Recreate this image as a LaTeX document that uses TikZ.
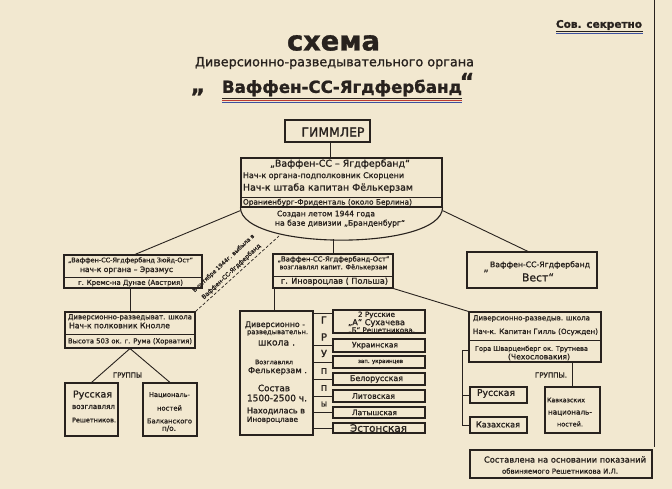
\documentclass[tikz,border=0pt]{standalone}
\usepackage{fontspec}
\setmainfont[FakeBold=1.2]{DejaVu Sans}
\usepackage{graphicx}
\definecolor{paper}{RGB}{242,232,208}
\definecolor{ink}{RGB}{40,34,30}
\definecolor{ured}{RGB}{190,60,50}
\definecolor{ublue}{RGB}{60,80,160}
\newcommand\fw[2]{\resizebox{#1pt}{!}{#2}}
\tikzset{
  bx/.style={draw=ink,line width=1.1pt,inner sep=0pt,rectangle},
  tx/.style={inner sep=0pt,text=ink},
  ln/.style={draw=ink,line width=0.9pt}
}
\begin{document}
\begin{tikzpicture}[x=1pt,y=-1pt]
\fill[paper] (0,0) rectangle (672,489);
\useasboundingbox (0,0) rectangle (672,489);
% frame
\draw[ink,line width=0.8pt] (654,0) -- (654,447);
% title
\node[tx] (tsch) at (333.5,43) {\fw{93}{\bfseries схема}};
\node[tx] (tdiv) at (334.5,63) {\fw{279}{Диверсионно-разведывательного органа}};
\node[tx] (tvaf) at (342,88) {\fw{240}{\bfseries Ваффен-СС-Ягдфербанд}};
\node[tx] (tq1) at (198,92) {\fontsize{22}{22}\selectfont\bfseries „};
\node[tx] (tq2) at (467,81) {\fontsize{22}{22}\selectfont\bfseries “};
\draw[ink,line width=0.9pt] (222,98) -- (462,98);
\draw[ured,line width=0.9pt] (222,100.3) -- (462,100.3);
\draw[ublue,line width=0.9pt] (222,102.6) -- (462,102.6);
\node[tx] (tsec) at (599,25) {\fw{86}{\bfseries Сов. секретно}};
\draw[ink,line width=0.8pt] (556,31) -- (643,31);
\draw[ublue,line width=0.7pt] (556,33.2) -- (643,33.2);

% Himmler
\node[bx,minimum width=85,minimum height=22] (him) at (327.5,131) {};
\node[tx] (thim) at (333,132) {\fw{63}{ГИММЛЕР}};
% central
\node[bx,minimum width=201,minimum height=49] (cen) at (341.5,182.5) {};
\draw[ln] (cen.west |- 0,197) -- (cen.east |- 0,197);
\draw[ln,line width=1.1pt] (cen.south west) .. controls (241,251) and (442,251) .. (cen.south east);
\coordinate (arcb) at (333,239.5);
\node[tx] (c1) at (340,164) {\fw{140}{„Ваффен-СС – Ягдфербанд“}};
\node[tx] (c2) at (323.5,176) {\fw{161}{Нач-к органа-подполковник Скорцени}};
\node[tx] (c3) at (328,188) {\fw{170}{Нач-к штаба капитан Фёлькерзам}};
\node[tx] (c4) at (327.5,202.5) {\fw{169}{Ораниенбург-Фриденталь (около Берлина)}};
\node[tx] (c5) at (326,214) {\fw{98}{Создан летом 1944 года}};
\node[tx] (c6) at (340,223.5) {\fw{130}{на базе дивизии „Бранденбург“}};
\draw[ln] (him.south -| 330,0) -- (cen.north -| 330,0);

% left box
\node[bx,minimum width=138,minimum height=33] (lb) at (133,271.5) {};
\draw[ln] (lb.west |- 0,277) -- (lb.east |- 0,277);
\node[tx] (l1) at (130.5,260.5) {\fw{125}{„Ваффен-СС-Ягдфербанд Зюйд-Ост“}};
\node[tx] (l2) at (126.5,270) {\fw{93}{нач-к органа – Эразмус}};
\node[tx] (l3) at (130.5,283) {\fw{105}{г. Кремс-на Дунае (Австрия)}};
\draw[ln] (cen.south west) ++(0,3) -- ([xshift=2pt]lb.north);

% middle box
\node[bx,minimum width=120,minimum height=34] (mb) at (333,271) {};
\draw[ln] (mb.west |- 0,276) -- (mb.east |- 0,276);
\node[tx] (m1) at (333.5,259.5) {\fw{112}{„Ваффен-СС-Ягдфербанд-Ост“}};
\node[tx] (m2) at (333.5,267.5) {\fw{108}{возглавлял капит. Фёлькерзам}};
\node[tx] (m3) at (334.5,281.5) {\fw{107}{г. Иновроцлав ( Польша)}};
\draw[ln] (arcb) -- (mb.north);

% west box
\node[bx,minimum width=130,minimum height=36] (wb) at (532,270) {};
\node[tx] (w1) at (540,265) {\fw{100}{Ваффен-СС-Ягдфербанд}};
\node[tx] (wq) at (486,271) {\fontsize{10}{10}\selectfont „};
\node[tx] (w2) at (538,277.5) {\fw{32}{Вест“}};
\draw[ln] (cen.south east) ++(0,3) -- ([xshift=-4pt]wb.north);

% left school
\node[bx,minimum width=130,minimum height=36] (ls) at (130,330) {};
\draw[ln] (ls.west |- 0,334) -- (ls.east |- 0,334);
\node[tx] (s1) at (130,317.5) {\fw{124}{Диверсионно-разведыват. школа}};
\node[tx] (s2) at (119.5,325.5) {\fw{101}{Нач-к полковник Кнолле}};
\node[tx] (s3) at (130,341.5) {\fw{124}{Высота 503 ок. г. Рума (Хорватия)}};
\draw[ln] (ls.north |- lb.south) -- (ls.north);

% left groups
\node[tx] (lgr) at (127.5,375) {\fw{29}{ГРУППЫ}};
\node[bx,minimum width=53,minimum height=53] (ga) at (91.5,409.5) {};
\node[bx,minimum width=54,minimum height=53] (gb) at (170,409.5) {};
\draw[ln] (ls.south) -- (ga.north);
\draw[ln] (ls.south) -- (gb.north);
\node[tx] (a1) at (92.5,395) {\fw{39}{Русская}};
\node[tx] (a2) at (93.5,407) {\fw{43}{возглавлял}};
\node[tx] (a3) at (94,420) {\fw{44}{Решетников.}};
\node[tx] (b1) at (169.5,395) {\fw{41}{Националь-}};
\node[tx] (b2) at (169.5,408) {\fw{25}{ностей}};
\node[tx] (b3) at (169.5,421) {\fw{45}{Балканского}};
\node[tx] (b4) at (169,428.5) {\fw{14}{п/о.}};

% annotation (dashed)
\coordinate (annend) at (279,236);
\draw[ln,dashed,line width=0.7pt,dash pattern=on 3pt off 2pt] (ls.north east) -- (annend);
\node[tx,rotate=43,align=center] (ann) at (227.5,267.5) {\fw{82}{В октябре 1944г. выбыла в}\\[-0.5pt]\fw{78}{Ваффен-СС-Ягдфербанд}};

% middle school
\node[bx,minimum width=73,minimum height=124] (ms) at (276.5,373) {};
\draw[ln] ([xshift=2pt]mb.south west) -- ([xshift=2pt]mb.south west |- ms.north);
\node[tx] (ms1) at (275,325) {\fw{60}{Диверсионно -}};
\node[tx] (ms2) at (277.5,333) {\fw{61}{разведывательн.}};
\node[tx] (ms3) at (276.5,343) {\fw{37}{школа .}};
\node[tx] (ms4) at (274,362) {\fw{38}{Возглавлял}};
\node[tx] (ms5) at (277.5,371) {\fw{59}{Фелькерзам .}};
\node[tx] (ms6) at (274,388) {\fw{32}{Состав}};
\node[tx] (ms7) at (277,398) {\fw{60}{1500-2500 ч.}};
\node[tx] (ms8) at (276,411) {\fw{58}{Находилась в}};
\node[tx] (ms9) at (272.5,420) {\fw{51}{Иновроцлаве}};

% groups middle
\node[bx,minimum width=92,minimum height=23] (g1) at (379,321.5) {};
\node[bx,minimum width=92,minimum height=13] (g2) at (379,345.5) {};
\node[bx,minimum width=92,minimum height=12] (g3) at (379,362) {};
\node[bx,minimum width=92,minimum height=12] (g4) at (379,379) {};
\node[bx,minimum width=92,minimum height=12] (g5) at (379,396) {};
\node[bx,minimum width=92,minimum height=11] (g6) at (379,412.5) {};
\node[bx,minimum width=92,minimum height=10] (g7) at (379,428) {};
\node[tx] (g1a) at (376.5,315) {\fw{37}{2 Русские}};
\node[tx] (g1b) at (376.5,323) {\fw{57}{„А“ Сухачева}};
\node[tx] (g1c) at (381.5,330.5) {\fw{67}{„Б“ Решетникова.}};
\node[tx] (g2t) at (375,345.5) {\fw{46}{Украинская}};
\node[tx] (g3t) at (380.5,362) {\fw{45}{зап. украинцев}};
\node[tx] (g4t) at (376.5,379) {\fw{53}{Белорусская}};
\node[tx] (g5t) at (373.5,396) {\fw{43}{Литовская}};
\node[tx] (g6t) at (374.5,412.5) {\fw{45}{Латышская}};
\node[tx] (g7t) at (378.5,428) {\fw{57}{Эстонская}};
\foreach \g/\y in {g1/313,g2/345.5,g3/362,g4/379,g5/396,g6/412.5,g7/428}
  \draw[ln] (ms.east |- 0,\y) -- (\g.west |- 0,\y);
\foreach \n/\l/\y in {lg1/Г/320,lg2/Р/337,lg3/У/353.5,lg4/П/371,lg5/П/388,lg6/Ы/404}
  \node[tx] (\n) at (324,\y) {\fw{6}{\l}};

% right school
\node[bx,minimum width=132,minimum height=50] (rs) at (535,337) {};
\draw[ln] (rs.west |- 0,340) -- (rs.east |- 0,340);
\node[tx] (r1) at (531.5,318.5) {\fw{117}{Диверсионно-разведыв. школа}};
\node[tx] (r2) at (535.5,332) {\fw{125}{Нач-к. Капитан Гилль (Осужден)}};
\node[tx] (r3) at (531.5,349) {\fw{113}{Гора Шварценберг ок. Трутнева}};
\node[tx] (r4) at (539,357) {\fw{62}{(Чехословакия)}};
\draw[ln] (mb.south east) -- (rs.north west);

% right groups
\node[tx] (rgr) at (551,375) {\fw{32}{ГРУППЫ.}};
\node[bx,minimum width=57,minimum height=16] (rr) at (498.5,395) {};
\node[bx,minimum width=57,minimum height=16] (rk) at (498.5,425) {};
\node[bx,minimum width=55,minimum height=46] (rc) at (572.5,410) {};
\node[tx] (rrt) at (496,393.5) {\fw{38}{Русская}};
\node[tx] (rkt) at (498,424.5) {\fw{44}{Казахская}};
\node[tx] (rc1) at (566,400) {\fw{38}{Кавказских}};
\node[tx] (rc2) at (570,413) {\fw{44}{националь-}};
\node[tx] (rc3) at (570,424) {\fw{26}{ностей.}};
\draw[ln] (rc.north |- rs.south) -- (rc.north);
\coordinate (brk) at (462,350);
\draw[ln] (rs.west |- brk) -- (brk) -- (brk |- rk.west) -- (rk.west);
\draw[ln] (brk |- rr.west) -- (rr.west);

% note
\node[bx,minimum width=182,minimum height=28] (note) at (561,464) {};
\node[tx] (n1) at (565,459.5) {\fw{162}{Составлена на основании показаний}};
\node[tx] (n2) at (560,471) {\fw{116}{обвиняемого Решетникова И.Л.}};
\end{tikzpicture}
\end{document}
